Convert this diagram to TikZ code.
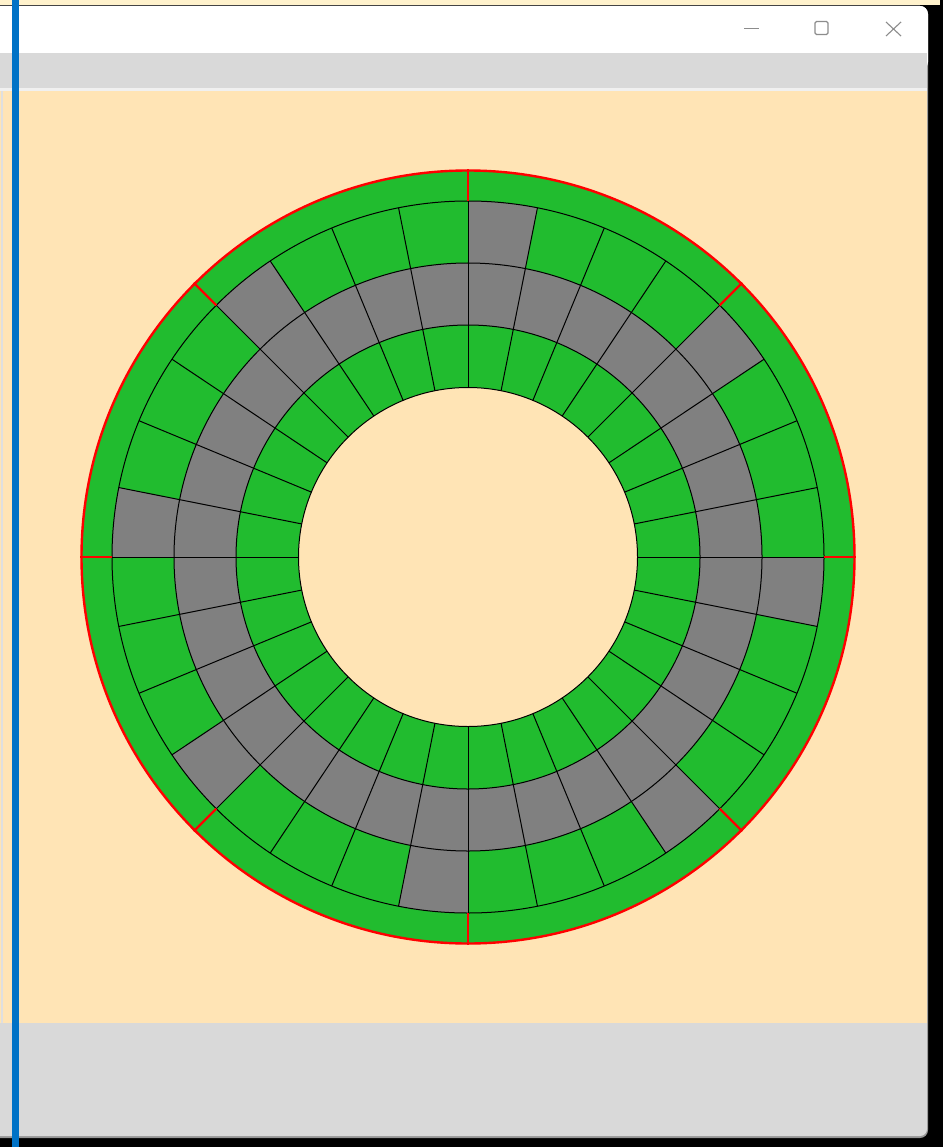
\documentclass[tikz,border=0pt]{standalone}
\definecolor{moc}{RGB}{255,228,181}
\definecolor{diskgreen}{RGB}{33,188,47}
\definecolor{diskgray}{RGB}{128,128,128}
\definecolor{menugray}{RGB}{217,217,217}
\definecolor{winblue}{RGB}{0,114,198}
\definecolor{topyellow}{RGB}{255,242,204}
\definecolor{icongray}{RGB}{140,140,140}
\definecolor{edgegray}{RGB}{150,150,150}
\tikzset{
  blackline/.style={black, line width=1pt},
  redline/.style={red, line width=2.4pt},
  icon/.style={icongray, line width=1.1pt},
}
\begin{document}
\begin{tikzpicture}[x=1pt,y=-1pt]
\useasboundingbox (0,0) rectangle (943,1147);
% screen background and window chrome
\fill[black] (0,0) rectangle (943,1147);
\fill[topyellow] (0,0) rectangle (940,5);
\fill[edgegray, rounded corners=8pt] (-20,6) rectangle (928,1138);
\fill[menugray, rounded corners=7pt] (-20,6) rectangle (927,1136);
\fill[white, rounded corners=8pt] (-20,6) rectangle (928,70);
\fill[menugray] (-20,53) rectangle (927,88);
\fill[gray!12] (-20,88) rectangle (927,91);
\fill[moc] (0,91) rectangle (927,1023);
\fill[gray!25] (1,91) rectangle (3,1023);
\fill[winblue] (12,0) rectangle (19,1147);
% title bar buttons
\draw[icon] (744,28.5) -- (759,28.5);
\draw[icon, rounded corners=1.5pt] (815,21.5) rectangle (828,34.5);
\draw[icon] (886,22) -- (901,36) (886,36) -- (901,22);
% disk
\begin{scope}[shift={(468,557)}, yscale=-1]
  \fill[diskgreen] (0,0) circle (386.5);
  % outer segmented ring: gray every fourth sector
  \foreach \k in {3,7,...,31} {
    \pgfmathsetmacro{\a}{\k*11.25}
    \pgfmathsetmacro{\b}{(\k+1)*11.25}
    \fill[diskgray] (\a:294) arc[start angle=\a, end angle=\b, radius=294]
      -- (\b:356) arc[start angle=\b, end angle=\a, radius=356] -- cycle;
  }
  % middle ring all gray
  \fill[diskgray, even odd rule] (0,0) circle (294) (0,0) circle (232);
  % inner hole
  \fill[moc] (0,0) circle (169.5);
  % ring borders
  \foreach \r in {169.5,232,294,356} \draw[blackline] (0,0) circle (\r);
  % radial separators
  \foreach \k in {0,...,31} {
    \draw[blackline] (\k*11.25:169.5) -- (\k*11.25:356);
  }
  % red outer rim and marks
  \draw[redline] (0,0) circle (386.5);
  \foreach \k in {0,...,7} {
    \draw[redline] (\k*45:356) -- (\k*45:388);
  }
\end{scope}
\end{tikzpicture}
\end{document}
